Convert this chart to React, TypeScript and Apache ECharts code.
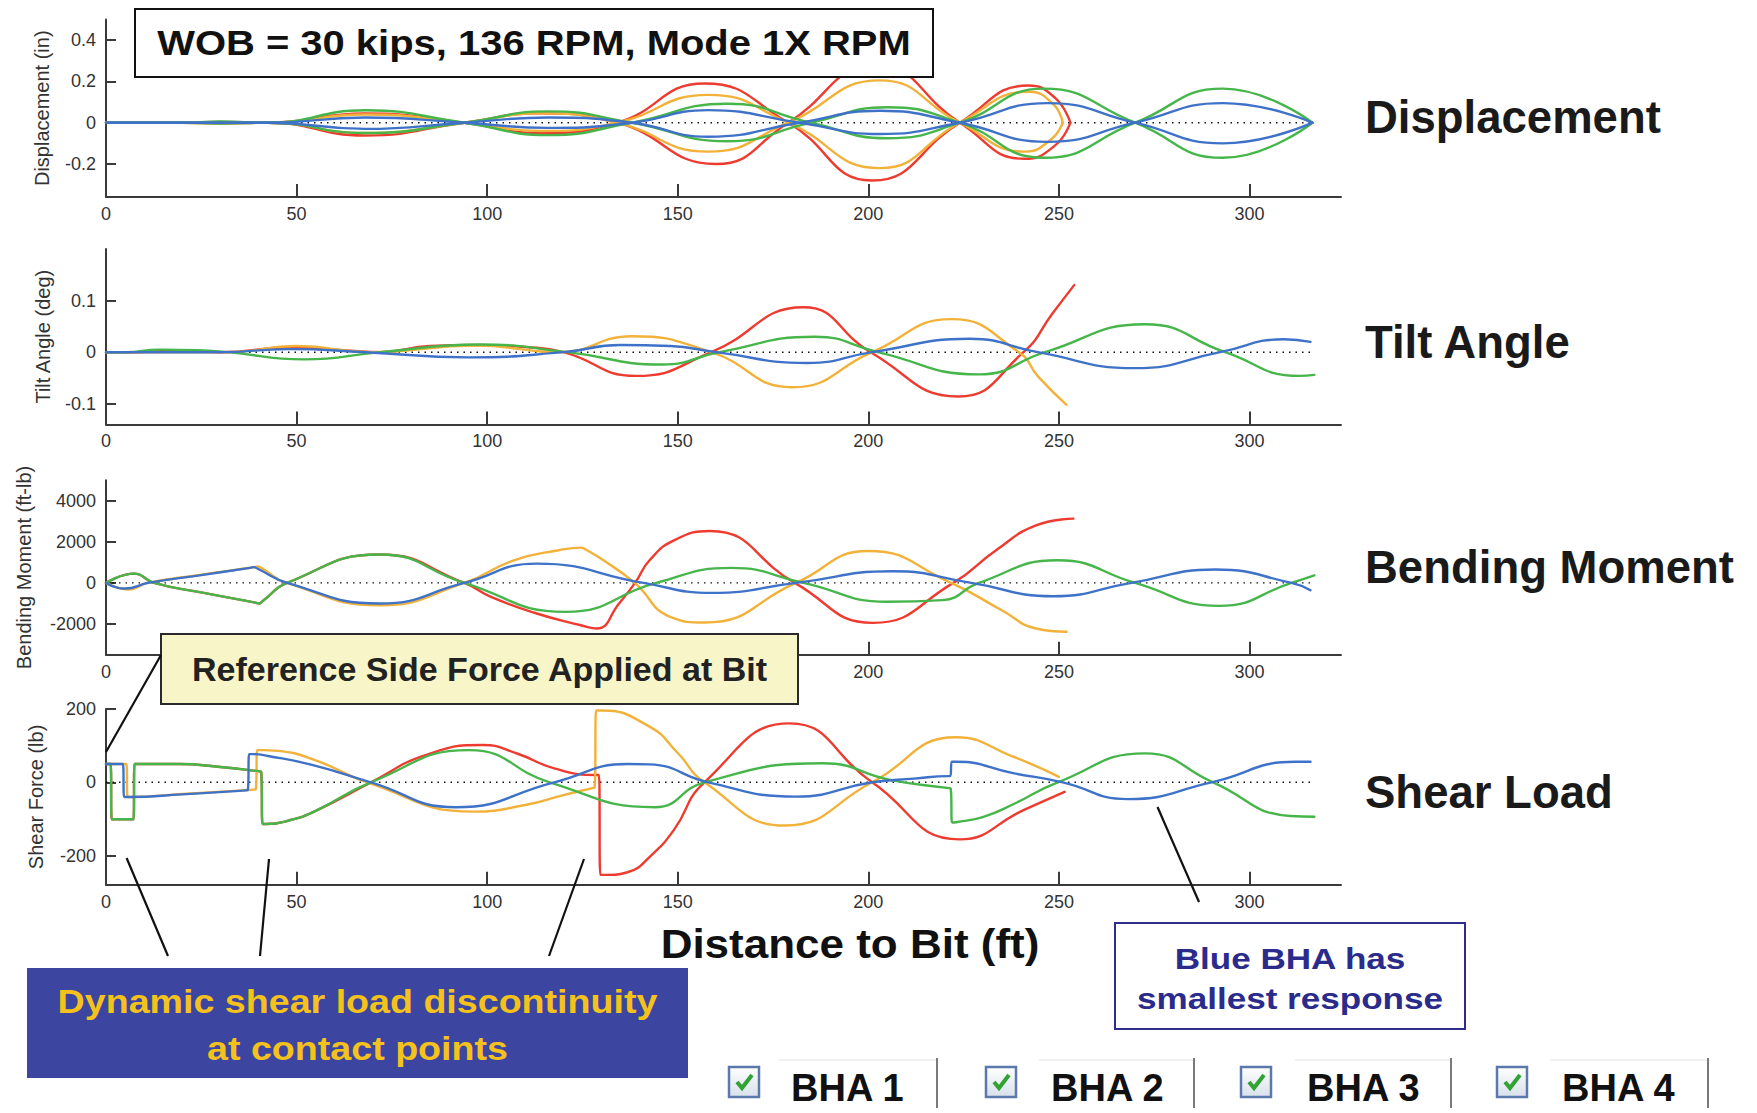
import React, { useEffect, useRef } from 'react';
import * as echarts from 'echarts';

// ---------------- data ----------------
const X_TICKS = [0, 50, 100, 150, 200, 250, 300];
const X_TICKS_UNDER_NOTE = [0, 200, 250, 300];
const DISP_TICKS = [-0.2, 0, 0.2, 0.4];
const TILT_TICKS = [-0.1, 0, 0.1];
const BEND_TICKS = [-2000, 0, 2000, 4000];
const SHEAR_TICKS = [-200, 0, 200];
const X_EXTENT = [0, 324];
const DISP_EXTENT = [-0.36, 0.5];
const TILT_EXTENT = [-0.14, 0.2];
const BEND_EXTENT = [-3500, 5000];
const SHEAR_EXTENT = [-280, 200];

const BHA_NAMES = ['BHA 1', 'BHA 2', 'BHA 3', 'BHA 4'];
const PANEL_TITLES = ['Displacement', 'Tilt Angle', 'Bending Moment', 'Shear Load'];
const Y_NAMES = ['Displacement (in)', 'Tilt Angle (deg)', 'Bending Moment (ft-lb)', 'Shear Force (lb)'];
const X_NAME = 'Distance to Bit (ft)';
const TITLE_TEXT = 'WOB = 30 kips, 136 RPM, Mode 1X RPM';
const REF_NOTE = 'Reference Side Force Applied at Bit';
const SHEAR_NOTE = ['Dynamic shear load discontinuity', 'at contact points'];
const BLUE_NOTE = ['Blue BHA has', 'smallest response'];

const ZERO_LINE = [[0, 0], [316.5, 0]];

// Displacement (two phases per BHA)
const dispBha1A = [[0,0],[20,0],[30,0.004],[42.5,0],[68,0.045],[94,0],[114,-0.05],[134,0],[157,0.19],[179,0],[201,-0.28],[224,0],[242,0.18],[249,0.12],[253,0]];
const dispBha1B = [[0,0],[20,0],[30,-0.004],[42.5,0],[68,-0.062],[94,0],[114,0.045],[134,0],[160,-0.2],[179,0],[202,0.28],[224,0],[241,-0.175],[249,-0.11],[253,0]];
const dispBha2A = [[0,0],[20,0],[30,0.003],[42.5,0],[68,0.04],[94,0],[114,-0.04],[134,0],[158,0.135],[179,0],[203,-0.22],[224,0],[242,0.15],[248.5,0.09],[251,0]];
const dispBha2B = [[0,0],[20,0],[30,-0.003],[42.5,0],[68,-0.05],[94,0],[114,0.045],[134,0],[158,-0.14],[179,0],[203,0.205],[224,0],[241,-0.14],[248,-0.08],[251,0]];
const dispBha3A = [[0,0],[20,0],[30,0.006],[42.5,0],[68,0.06],[94,0],[116,-0.06],[138,0],[163,0.092],[185,0],[205,-0.075],[224,0],[246,0.165],[270,0],[293,-0.17],[316.5,0]];
const dispBha3B = [[0,0],[20,0],[30,-0.004],[42.5,0],[68,-0.05],[94,0],[116,0.055],[138,0],[163,-0.09],[185,0],[205,0.075],[224,0],[246,-0.17],[270,0],[293,0.165],[316.5,0]];
const dispBha4A = [[0,0],[20,0],[42.5,0],[68,0.025],[94,0],[116,-0.025],[138,0],[158,0.061],[182,0],[203,-0.055],[224,0],[247,0.095],[270,0],[293,-0.1],[316.5,0]];
const dispBha4B = [[0,0],[20,0],[42.5,0],[68,-0.03],[94,0],[116,0.025],[138,0],[158,-0.068],[182,0],[203,0.058],[224,0],[247,-0.093],[270,0],[293,0.095],[316.5,0]];

// Tilt angle
const tiltBha1 = [[0,0],[8,0],[18,0.003],[30,0],[48,0.009],[62,0.004],[72,0],[85,0.012],[97,0.014],[110,0.01],[120,0],[139,-0.046],[158.8,0],[183,0.087],[200.6,0],[223.6,-0.086],[240.7,0],[248.3,0.075],[254,0.13]];
const tiltBha2 = [[0,0],[32,0],[50,0.012],[70,0],[97,0.013],[119,0],[138,0.031],[158.8,0],[180,-0.068],[201,0],[221.9,0.064],[239.5,0],[244.5,-0.047],[252,-0.102]];
const tiltBha3 = [[0,0],[5,0],[14,0.005],[24,0.004],[32,0],[52,-0.014],[72,0],[98,0.015],[121,0],[146,-0.024],[161,0],[186,0.03],[202.5,0],[229,-0.043],[246.4,0],[272.6,0.054],[293.6,0],[313,-0.046],[317,-0.044]];
const tiltBha4 = [[0,0],[30,0],[48,0.006],[68,0],[95,-0.01],[120,0],[135,0.014],[148,0.012],[160,0],[184,-0.021],[201,0],[226.6,0.026],[244.5,0],[270,-0.031],[292.3,0],[309,0.025],[316,0.02]];

// Bending moment
const bendBha1 = [[0,0],[7.4,450],[12.6,0],[26,-500],[39.2,-960],[40.2,-1000],[41.2,-870],[47.5,0],[71.8,1380],[94,0],[101,-680],[113,-1490],[124.6,-2060],[128.8,-2220],[134.6,-1000],[138.8,0],[142.6,1100],[149,2070],[158.4,2530],[180.7,0],[201.2,-1945],[222.3,0],[233.5,1590],[244,2800],[253.8,3130]];
const bendBha2 = [[0,0],[6,-320],[11,0],[25,400],[38.8,760],[39.8,800],[40.8,720],[47.5,0],[71.8,-1085],[94,0],[107,1100],[118.8,1590],[124.6,1720],[125.6,1650],[130.5,1100],[138.7,0],[148,-1650],[157.1,-1930],[181,0],[200,1555],[221.7,0],[235,-1330],[244,-2220],[252,-2380]];
const bendBha3 = [[0,0],[7.4,450],[12.6,0],[26,-500],[39.2,-960],[40.2,-1000],[41.2,-870],[47.5,0],[71.8,1380],[94,0],[120.6,-1410],[144.4,0],[164,730],[183,0],[205,-920],[219.5,-840],[229,0],[249.7,1100],[270,0],[292,-1120],[311,0],[317,370]];
const bendBha4 = [[0,0],[5,-275],[11,0],[25,380],[37.8,730],[38.8,770],[39.8,690],[47.5,0],[71.8,-1000],[94,0],[113,940],[141,0],[159,-486],[181,0],[206.3,567],[227,0],[248.5,-650],[269,0],[291,650],[311,0],[316,-356]];

// Shear force
const shearBha1 = [[0,50],[1.2,50],[1.5,-101],[7.2,-101],[7.5,50],[8.5,50],[19,50],[30,42],[40.3,30],[40.7,29],[41.1,-114],[42,-114],[48.4,-103],[55,-78],[69.5,0],[84,75],[98.8,102],[108,78],[117.6,38],[128.8,20],[129.3,20],[129.7,-253],[131,-253],[137,-245],[143,-200],[149,-130],[157,0],[179.4,161],[201,0],[224,-156],[240.7,-76],[251.5,-26]];
const shearBha2 = [[0,50],[5.3,50],[5.7,-40],[6.5,-40],[20,-32],[38.8,-20],[39.3,-19],[39.7,88],[41,88],[45,86],[55,60],[68.5,0],[96.5,-80],[110,-62],[120,-35],[127.8,-15],[128.2,-14],[128.6,196],[130,196],[142.6,152],[150,80],[157,0],[178.2,-118],[201,0],[223,123],[238,70],[250,15]];
const shearBha3 = [[0,50],[1.2,50],[1.5,-101],[7.2,-101],[7.5,50],[8.5,50],[19,50],[30,42],[40.3,30],[40.7,29],[41.1,-114],[42,-114],[48.4,-103],[55,-78],[69.5,0],[95.3,88],[116.4,0],[144,-68],[157,0],[188,52],[206,6],[221.2,-16],[221.6,-17],[222,-110],[223,-109],[230,-95],[238,-60],[249.7,0],[272.6,79],[290.4,0],[310.7,-92],[317,-94]];
const shearBha4 = [[0,50],[4.4,50],[4.8,-40],[6,-40],[20,-33],[36.8,-22],[37.2,-21],[37.6,77],[38.5,77],[42.5,72],[54.3,47],[69.5,0],[91.8,-68],[117.6,0],[137,50],[142.6,49],[158,0],[181,-39],[201,0],[212,10],[221.1,17],[221.5,17],[221.9,56],[223,56],[238,25],[251,0],[268,-46],[290,0],[312,56],[316,56]];

// ---------------- styling / layout ----------------
const FONT = '"Liberation Sans", Arial, Helvetica, sans-serif';
const COLORS = ['#ee3b2f', '#f2b23a', '#46b54a', '#3e72c8'];
const AX = '#3a3a3a';
const GRID_LEFT = 106;
const GRID_WIDTH = 1235;
const GRID_TOPS = [19.5, 249, 480.2, 709.1];
const GRID_HEIGHTS = [177.5, 175.4, 174.6, 175.7];
const NAME_GAPS = [54, 53, 72, 60];
const TITLE_Y = [117.5, 342, 567, 792];

function lineSeries(name: string, data: number[][], color: string, gi: number) {
  return {
    type: 'line', name, data, xAxisIndex: gi, yAxisIndex: gi,
    symbol: 'none', showSymbol: false, smooth: 0.5, silent: true, z: 3,
    lineStyle: { color, width: 2.4, cap: 'round', join: 'round' },
    itemStyle: { color },
    emphasis: { disabled: true },
  };
}

function zeroSeries(gi: number) {
  return {
    type: 'line', name: 'zero', data: ZERO_LINE, xAxisIndex: gi, yAxisIndex: gi,
    symbol: 'none', showSymbol: false, silent: true, z: 2,
    lineStyle: { color: '#111', width: 1.4, type: [1.5, 5] },
    emphasis: { disabled: true },
  };
}

function buildOption() {
  const yExtents = [DISP_EXTENT, TILT_EXTENT, BEND_EXTENT, SHEAR_EXTENT];
  const yTicks = [DISP_TICKS, TILT_TICKS, BEND_TICKS, SHEAR_TICKS];
  const xLabelValues = [X_TICKS, X_TICKS, X_TICKS_UNDER_NOTE, X_TICKS];

  const grid = GRID_TOPS.map((t, i) => ({ left: GRID_LEFT, width: GRID_WIDTH, top: t, height: GRID_HEIGHTS[i] }));

  const xAxis = GRID_TOPS.map((_, i) => ({
    type: 'value', gridIndex: i, min: X_EXTENT[0], max: X_EXTENT[1],
    axisLine: { show: true, onZero: false, lineStyle: { color: AX, width: 2 } },
    axisTick: { show: true, inside: true, length: 13, customValues: X_TICKS, lineStyle: { color: AX, width: 2 } },
    axisLabel: { show: true, customValues: xLabelValues[i], margin: 8, fontSize: 18, color: '#333', fontFamily: FONT, formatter: (v: number) => String(v) },
    splitLine: { show: false },
  }));

  const yAxis = GRID_TOPS.map((_, i) => ({
    type: 'value', gridIndex: i, min: yExtents[i][0], max: yExtents[i][1],
    name: Y_NAMES[i], nameLocation: 'middle', nameRotate: 90, nameGap: NAME_GAPS[i],
    nameTextStyle: { fontSize: 20, color: '#333', fontFamily: FONT },
    axisLine: { show: true, onZero: false, lineStyle: { color: AX, width: 2 } },
    axisTick: { show: true, inside: true, length: 10, customValues: yTicks[i], lineStyle: { color: AX, width: 2 } },
    axisLabel: { show: true, customValues: yTicks[i], margin: 10, fontSize: 18, color: '#333', fontFamily: FONT, formatter: (v: number) => String(v) },
    splitLine: { show: false },
  }));

  const disp = [[dispBha1A, dispBha1B], [dispBha2A, dispBha2B], [dispBha3A, dispBha3B], [dispBha4A, dispBha4B]];
  const tilt = [tiltBha1, tiltBha2, tiltBha3, tiltBha4];
  const bend = [bendBha1, bendBha2, bendBha3, bendBha4];
  const shear = [shearBha1, shearBha2, shearBha3, shearBha4];

  const series: any[] = [];
  series.push(zeroSeries(0));
  disp.forEach((pair, k) => pair.forEach((d) => series.push(lineSeries(BHA_NAMES[k], d, COLORS[k], 0))));
  series.push(zeroSeries(1));
  tilt.forEach((d, k) => series.push(lineSeries(BHA_NAMES[k], d, COLORS[k], 1)));
  series.push(zeroSeries(2));
  bend.forEach((d, k) => series.push(lineSeries(BHA_NAMES[k], d, COLORS[k], 2)));
  series.push(zeroSeries(3));
  shear.forEach((d, k) => series.push(lineSeries(BHA_NAMES[k], d, COLORS[k], 3)));

  const g: any[] = [];
  const txt = (text: string, x: number, y: number, size: number, fill: string, align = 'center', scaleX = 1, weight = 'bold') => ({
    type: 'text', z: 110, x, y, scaleX, originX: 0, originY: 0,
    style: { text, fontSize: size, fontWeight: weight, fontFamily: FONT, fill, align, verticalAlign: 'middle' },
  });
  const seg = (x1: number, y1: number, x2: number, y2: number, color = '#111', w = 2.2) => ({
    type: 'line', z: 105, shape: { x1, y1, x2, y2 }, style: { stroke: color, lineWidth: w },
  });

  // title box
  g.push({ type: 'rect', z: 100, shape: { x: 135, y: 9, width: 798, height: 68 }, style: { fill: '#fff', stroke: '#111', lineWidth: 2 } });
  g.push(txt(TITLE_TEXT, 534, 43, 36, '#111', 'center', 1.11));

  // right panel titles
  PANEL_TITLES.forEach((t, i) => g.push(txt(t, 1365, TITLE_Y[i], 45.5, '#1a1a1a', 'left')));

  // reference side force note
  g.push({ type: 'rect', z: 100, shape: { x: 161, y: 634, width: 637, height: 70 }, style: { fill: '#f8f6c8', stroke: '#2a2a2a', lineWidth: 2 } });
  g.push(txt(REF_NOTE, 192, 668.5, 34, '#222', 'left'));
  g.push(seg(161, 655, 106, 752));

  // x axis title
  g.push(txt(X_NAME, 850, 944, 40, '#111', 'center', 1.1));

  // shear discontinuity note
  g.push({ type: 'rect', z: 100, shape: { x: 27, y: 968, width: 661, height: 110 }, style: { fill: '#3c46a0' } });
  g.push(txt(SHEAR_NOTE[0], 357.5, 1001, 33, '#f5c21b', 'center', 1.14));
  g.push(txt(SHEAR_NOTE[1], 357.5, 1048, 33, '#f5c21b', 'center', 1.14));
  g.push(seg(168, 956, 126.6, 858));
  g.push(seg(260, 956, 269, 859));
  g.push(seg(549, 956, 584, 859));

  // blue note
  g.push({ type: 'rect', z: 100, shape: { x: 1115, y: 923, width: 350, height: 106 }, style: { fill: '#fff', stroke: '#2e2e8a', lineWidth: 2 } });
  g.push(txt(BLUE_NOTE[0], 1290, 958, 30, '#2b2b8c', 'center', 1.17));
  g.push(txt(BLUE_NOTE[1], 1290, 998, 30, '#2b2b8c', 'center', 1.17));
  g.push(seg(1199, 902, 1157.5, 807));

  // checkbox legend
  const boxX = [729, 986, 1241, 1497];
  const textX = [791, 1051, 1307, 1562];
  const sepX = [937, 1194, 1451, 1708];
  BHA_NAMES.forEach((name, i) => {
    const bx = boxX[i], by = 1067;
    g.push({ type: 'line', z: 99, shape: { x1: textX[i] - 12, y1: 1060, x2: sepX[i], y2: 1060 }, style: { stroke: '#ececec', lineWidth: 1.5 } });
    g.push({
      type: 'rect', z: 100, shape: { x: bx, y: by, width: 30, height: 30 },
      style: {
        fill: { type: 'linear', x: 0, y: 0, x2: 0, y2: 1, colorStops: [{ offset: 0, color: '#ffffff' }, { offset: 1, color: '#d8e0ea' }] },
        stroke: '#5b79ad', lineWidth: 2.5,
      },
    });
    g.push({ type: 'polyline', z: 101, shape: { points: [[bx + 8, by + 15], [bx + 13, by + 21], [bx + 23, by + 8]] }, style: { stroke: '#32a232', lineWidth: 4, fill: 'none' } });
    g.push(txt(name, textX[i], 1088, 38, '#111', 'left'));
    g.push({ type: 'line', z: 100, shape: { x1: sepX[i], y1: 1058, x2: sepX[i], y2: 1108 }, style: { stroke: '#7a7a7a', lineWidth: 2 } });
  });

  return {
    animation: false,
    backgroundColor: '#ffffff',
    textStyle: { fontFamily: FONT },
    grid, xAxis, yAxis, series,
    graphic: { elements: g },
  };
}

export default function App() {
  const ref = useRef<HTMLDivElement>(null);
  useEffect(() => {
    if (!ref.current) return;
    const chart = echarts.init(ref.current, null, { renderer: 'svg' });
    chart.setOption(buildOption() as any);
    return () => chart.dispose();
  }, []);
  return <div ref={ref} style={{ position: 'fixed', left: 0, top: 0, width: 1757, height: 1113, background: '#fff' }} />;
}
